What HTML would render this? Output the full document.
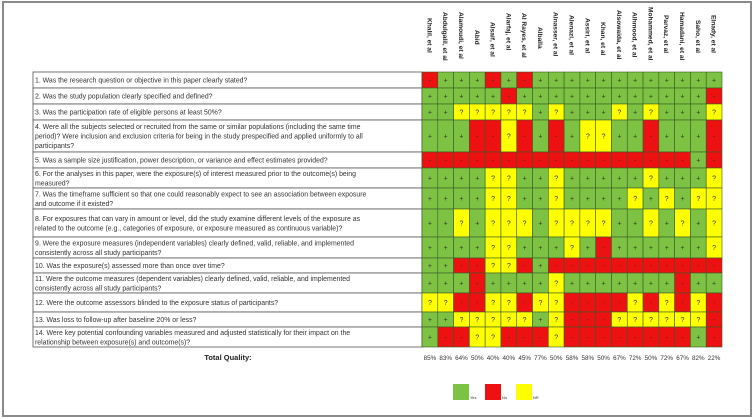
<!DOCTYPE html>
<html><head><meta charset="utf-8"><style>
html,body{margin:0;padding:0;background:#fff;}
svg{display:block;font-family:"Liberation Sans",sans-serif;}
</style></head><body>
<svg id="chart" width="755" height="419" viewBox="0 0 755 419">
<rect x="3" y="2" width="748" height="414" fill="#fff" stroke="#8a8a8a" stroke-width="2"/>
<g id="q"></g><g id="grid"></g><g id="hdr"></g><g id="pct"></g>
<text x="228" y="360" font-size="7.5" font-weight="bold" fill="#222" text-anchor="middle">Total Quality:</text>
<g>
<rect x="453" y="384" width="16" height="16" fill="#7dc242"/>
<text x="470" y="399" font-size="4" fill="#333">Yes</text>
<rect x="485" y="384" width="16" height="16" fill="#ee1111"/>
<text x="502" y="399" font-size="4" fill="#333">No</text>
<rect x="516" y="384" width="16" height="16" fill="#ffff00"/>
<text x="533" y="399" font-size="4" fill="#333">NR</text>
</g>
</svg>
<script>
const studies=["Khalil, et al","Abdulgalil, et al","Alamoudi, et al","Abid","Alsaif, et al","Alarfaj, et al","Al Rayes, et al","Alballa","Alnasser, et al","Alenazi, et al","Assiri, et al","Khan, et al","Alsowaida, et al","Alhmood, et al","Mohammed, et al","Parvaz, et al","Hamadani, et al","Saho, et al","Elnady, et al"];
const headerOffsets=[18,12,12,30,22,13,13,27,12,15,18,22,10,12,7,15,12,20,15];
const totals=["85%","83%","64%","50%","40%","40%","45%","77%","50%","58%","58%","50%","67%","72%","50%","72%","67%","82%","22%"];
const questions=[
["1. Was the research question or objective in this paper clearly stated?"],
["2. Was the study population clearly specified and defined?"],
["3. Was the participation rate of eligible persons at least 50%?"],
["4. Were all the subjects selected or recruited from the same or similar populations (including the same time","period)? Were inclusion  and exclusion criteria for being in the study prespecified and applied uniformly to all","participants?"],
["5. Was a sample size justification, power description, or variance and effect estimates provided?"],
["6. For the analyses in this paper, were the exposure(s) of interest measured prior to the outcome(s) being","measured?"],
["7. Was the timeframe sufficient so that one could reasonably expect to see an association between exposure","and outcome if it existed?"],
["8. For exposures that can vary in amount or level, did the study examine different levels of the exposure as","related to the outcome (e.g., categories of exposure, or exposure measured as continuous variable)?"],
["9. Were the exposure measures (independent variables) clearly defined, valid, reliable, and implemented","consistently across all study participants?"],
["10. Was the exposure(s) assessed  more than once over time?"],
["11. Were the outcome measures (dependent variables) clearly defined, valid, reliable, and implemented","consistently across all study participants?"],
["12. Were the outcome assessors blinded to the exposure status of participants?"],
["13. Was loss to follow-up after baseline 20% or less?"],
["14. Were key potential confounding  variables measured and adjusted statistically for their impact on the","relationship between exposure(s) and outcome(s)?"]];
const rowBounds=[72,88,104,120,152,168,188,209,237,258,273,293,312,327,347];
const ratings=[
"RGGGRGRGGGGGGGGGGGG",
"GGGGGRGGGGGGGGGGGGR",
"GGYYYYYGYGGGYGYGGGY",
"GGGRRYRGRGYYGGRGGGR",
"RRRRRRRRRRRRRRRRRGR",
"GGGGYYGGYGGGGGYGGGY",
"GGGGYYGGYGGGGYGYGYY",
"GGYGYYYGYYYYGGYGYGY",
"GGGGYYGGGYGRGGGGGGY",
"GGRRYYRGRRRRRRRRRRR",
"GGGRGGGGYGGGGGGGRGG",
"YYRRYYRYYRRRRYRYRYR",
"GGYYYYYGYRRRYYYYYYR",
"GRRYYRRRYRRRRRRRRGR"];
const NS="http://www.w3.org/2000/svg";
const x0=422,x1=722,qx0=33,cw=(x1-x0)/studies.length;
const xs=i=>x0+i*cw;
const fill={G:"#7dc242",R:"#ee1111",Y:"#ffff00"};
const sym={G:"+",R:"-",Y:"?"};
function mk(t,a,p){const e=document.createElementNS(NS,t);for(const k in a)e.setAttribute(k,a[k]);p.appendChild(e);return e;}
const qg=document.getElementById('q'),gg=document.getElementById('grid'),hg=document.getElementById('hdr'),pg=document.getElementById('pct');
questions.forEach((lines,r)=>{
  const y0=rowBounds[r],y1=rowBounds[r+1];
  const rc=mk('rect',{x:qx0,y:y0,width:x0-qx0,height:y1-y0,fill:'#fff',stroke:'#555','stroke-width':0.8},qg);
  
  
  const n=lines.length,lh=9.5,start=(y0+y1)/2-(n-1)*lh/2+2.5;
  lines.forEach((l,k)=>{const t=mk('text',{x:qx0+2,y:start+k*lh,'font-size':6.9,fill:'#333'},qg);t.textContent=l;
    
    });
  for(let c=0;c<studies.length;c++){
    const v=ratings[r][c];
    const cell=mk('rect',{x:xs(c),y:y0,width:cw,height:y1-y0,fill:fill[v],stroke:'#3a5a2a','stroke-width':0.6},gg);
    
    
    const s=mk('text',{x:xs(c)+cw/2,y:(y0+y1)/2+2.5,'font-size':7,'text-anchor':'middle',fill:'#333'},gg);
    s.textContent=sym[v];
    
    
  }
});
studies.forEach((s,c)=>{
  const cx=xs(c)+cw/2-2.5,y=headerOffsets[c];
  const t=mk('text',{x:cx,y:y,'font-size':6.6,'font-weight':'bold',fill:'#222',transform:`rotate(90 ${cx} ${y})`},hg);
  t.textContent=s;
  
  
  const p=mk('text',{x:xs(c)+cw/2,y:360,'font-size':6.3,'text-anchor':'middle',fill:'#333'},pg);
  p.textContent=totals[c];
  
  
});
</script>
</body></html>
